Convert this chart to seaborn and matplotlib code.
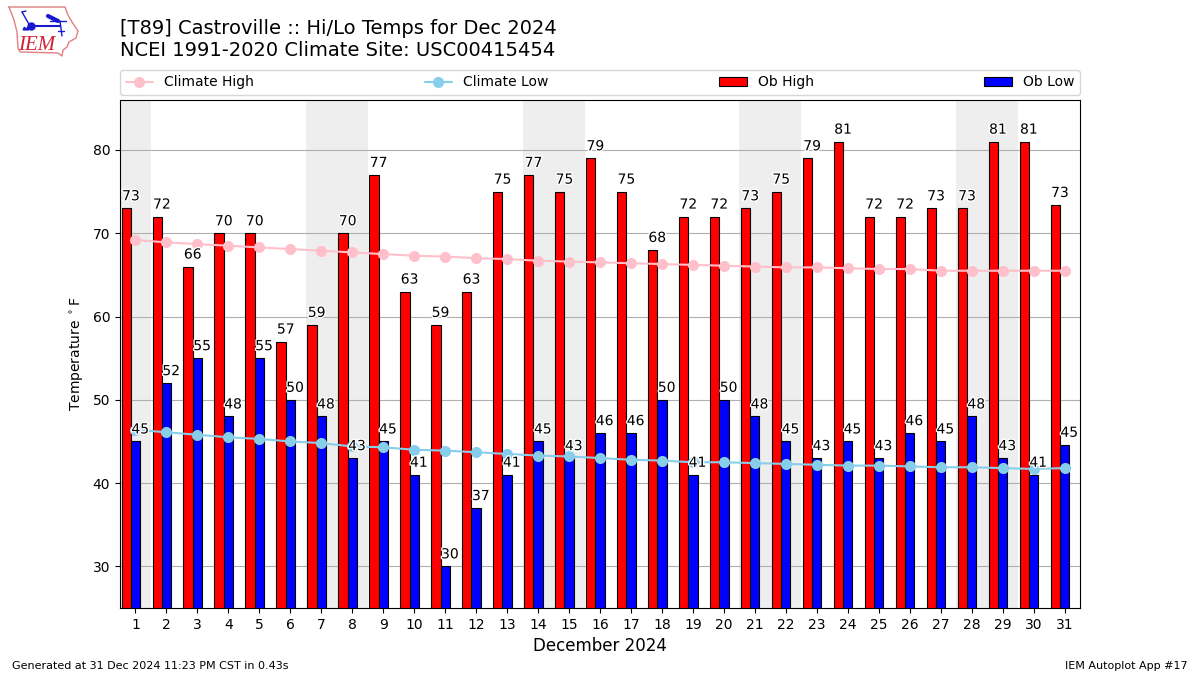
import matplotlib
matplotlib.use("Agg")
import matplotlib.pyplot as plt
import matplotlib.patheffects as pe
import numpy as np
import seaborn as sns

days = np.arange(1, 32)
ob_high = [73, 72, 66, 70, 70, 57, 59, 70, 77, 63, 59, 63, 75, 77, 75, 79,
           75, 68, 72, 72, 73, 75, 79, 81, 72, 72, 73, 73, 81, 81, 73.4]
ob_low = [45, 52, 55, 48, 55, 50, 48, 43, 45, 41, 30, 37, 41, 45, 43, 46,
          46, 50, 41, 50, 48, 45, 43, 45, 43, 46, 45, 48, 43, 41, 44.6]
climo_high = [69.2, 68.9, 68.7, 68.5, 68.3, 68.1, 67.9, 67.7, 67.5, 67.3, 67.2,
              67.0, 66.9, 66.7, 66.6, 66.5, 66.4, 66.3, 66.2, 66.1, 66.0, 65.9,
              65.9, 65.8, 65.7, 65.7, 65.5, 65.5, 65.5, 65.5, 65.5]
climo_low = [46.4, 46.1, 45.8, 45.5, 45.3, 45.0, 44.8, 44.4, 44.3, 44.0, 43.9,
             43.7, 43.5, 43.3, 43.2, 43.0, 42.8, 42.7, 42.5, 42.5, 42.4, 42.3,
             42.2, 42.1, 42.1, 42.0, 41.9, 41.9, 41.8, 41.7, 41.8]
weekends = [(0.5, 1.5), (6.5, 8.5), (13.5, 15.5), (20.5, 22.5), (27.5, 29.5)]

sns.set_style("white")
plt.rcParams["font.family"] = ["DejaVu Sans"]
plt.rcParams["text.color"] = "black"
plt.rcParams["axes.labelcolor"] = "black"
plt.rcParams["xtick.color"] = "black"
plt.rcParams["ytick.color"] = "black"

fig = plt.figure(figsize=(12, 6.75), dpi=100)
ax = fig.add_axes([120 / 1200, 1 - 608 / 675, 960 / 1200, 508 / 675])

for start, end in weekends:
    ax.axvspan(start, end, color="#eeeeee", lw=0, zorder=0)

# bars, red sits one bar width left of the day
sns.barplot(x=days - 0.3, y=ob_high, native_scale=True, width=0.3, color="red",
            saturation=1, edgecolor="black", linewidth=0.8, label="Ob High",
            ax=ax, zorder=2)
sns.barplot(x=days, y=ob_low, native_scale=True, width=0.3, color="blue",
            saturation=1, edgecolor="black", linewidth=0.8, label="Ob Low",
            ax=ax, zorder=2)
sns.lineplot(x=days, y=climo_high, color="pink", marker="o", markersize=8,
             markeredgewidth=0, linewidth=1.5, label="Climate High", ax=ax, zorder=3)
sns.lineplot(x=days, y=climo_low, color="skyblue", marker="o", markersize=8,
             markeredgewidth=0, linewidth=1.5, label="Climate Low", ax=ax, zorder=3)

halo = [pe.withStroke(linewidth=2, foreground="white")]
for day, hi, lo in zip(days, ob_high, ob_low):
    ax.text(day - 0.15, hi + 0.6, f"{hi:.0f}", ha="center", va="bottom",
            fontsize=10, path_effects=halo, zorder=4)
    ax.text(day + 0.15, lo + 0.6, f"{lo:.0f}", ha="center", va="bottom",
            fontsize=10, path_effects=halo, zorder=4)

ax.set_xlim(0.5, 31.5)
ax.set_ylim(25, 86)
ax.set_xticks(days)
ax.set_xticklabels([str(d) for d in days])
ax.set_yticks([30, 40, 50, 60, 70, 80])
ax.tick_params(axis="both", which="major", length=3.5, width=0.8, labelsize=10,
               bottom=True, left=True)
ax.yaxis.grid(True, color="#b0b0b0", linewidth=0.8, zorder=1)
ax.set_axisbelow(True)
for spine in ax.spines.values():
    spine.set_color("black")
    spine.set_linewidth(0.8)
ax.set_xlabel("December 2024", fontsize=12)
ax.set_ylabel(r"Temperature $^\circ$F", fontsize=10, labelpad=5)

handles, labels = ax.get_legend_handles_labels()
order = [labels.index(n) for n in ["Climate High", "Climate Low", "Ob High", "Ob Low"]]
ax.legend([handles[i] for i in order], [labels[i] for i in order], ncol=4,
          mode="expand", loc="lower left", bbox_to_anchor=(0, 1.01, 1, 0.05),
          borderaxespad=0, fontsize=10, frameon=True)

fig.text(120 / 1200, 1 - 60 / 675, "[T89] Castroville :: Hi/Lo Temps for Dec 2024\n"
         "NCEI 1991-2020 Climate Site: USC00415454", fontsize=14, ha="left",
         va="bottom", linespacing=1.2)
fig.text(12 / 1200, 1 - 666 / 675, "Generated at 31 Dec 2024 11:23 PM CST in 0.43s",
         fontsize=8, ha="left", va="center")
fig.text(1188 / 1200, 1 - 666 / 675, "IEM Autoplot App #17", fontsize=8, ha="right",
         va="center")

# rough IEM logo, drawn in pixel space
logo = fig.add_axes([0, 0, 1, 1], facecolor="none")
logo.set_xlim(0, 1200)
logo.set_ylim(675, 0)
logo.axis("off")
state_x = [9, 65, 68, 72, 78, 76, 69, 67, 63, 62, 58, 20, 18, 17, 14, 9]
state_y = [7, 7, 15, 22, 31, 38, 42, 47, 50, 56, 53, 52, 48, 32, 20, 7]
logo.plot(state_x, state_y, color="#e08080", lw=1)
logo.plot([31, 60], [26, 26], color="#1818d0", lw=1.5)
logo.plot([22, 30], [12, 26], color="#1818d0", lw=1)
logo.plot([22, 26], [12, 11], color="#1818d0", lw=1)
logo.plot([48, 58], [16, 21], color="#1818d0", lw=3)
logo.plot([50, 66], [21, 21], color="#1818d0", lw=1)
logo.plot([60, 62], [21, 36], color="#1818d0", lw=1)
logo.plot([58, 64], [31, 31], color="#1818d0", lw=1)
logo.plot([31], [26], "o", color="#1818d0", ms=5)
logo.plot([24, 27], [28, 28], "^", color="#1818d0", ms=2)
logo.text(37, 45, "IEM", color="#d02030", fontsize=15, family="Liberation Serif",
          style="italic", ha="center", va="center")

fig.savefig("out.png", dpi=100)
